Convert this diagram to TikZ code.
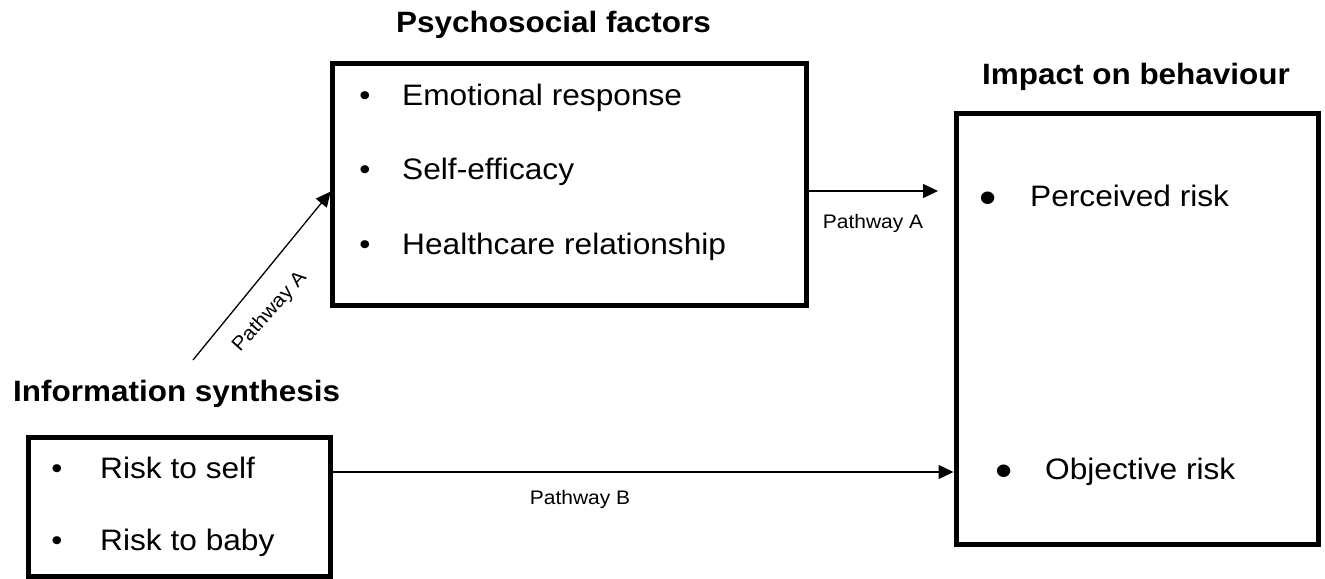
\documentclass[tikz,border=0pt]{standalone}
\usepackage{fontspec}
\setmainfont{Liberation Sans}[FakeStretch=1.07]
\usetikzlibrary{arrows.meta}
\begin{document}
\begin{tikzpicture}[x=1bp,y=-1bp,
  box/.style={draw=black,line width=5bp,rectangle,inner sep=0pt,outer sep=0pt},
  title/.style={anchor=base west,inner sep=0pt,font=\fontsize{29.4bp}{34bp}\selectfont\bfseries},
  item/.style={anchor=base west,inner sep=0pt,font=\fontsize{29.6bp}{34bp}\selectfont},
  bul/.style={anchor=base,inner sep=0pt,font=\fontsize{29.6bp}{34bp}\selectfont},
  bigbul/.style={anchor=base,inner sep=0pt,font=\fontsize{46bp}{50bp}\selectfont},
  plabel/.style={inner sep=0pt,font=\fontsize{19.6bp}{23bp}\selectfont},
  arr/.style={line width=1.3bp,-{Triangle[length=15bp,width=14bp]}}]
\useasboundingbox (0,0) rectangle (1325,579);

% boxes
\node[box,minimum width=474bp,minimum height=241bp] (mid) at (569,184.5) {};
\node[box,minimum width=362bp,minimum height=430bp] (right) at (1137,329) {};
\node[box,minimum width=301bp,minimum height=139bp] (left) at (179.5,506.5) {};

% titles
\node[title] (tmid) at (396,33) {Psychosocial factors};
\node[title] (tright) at (982,85) {Impact on behaviour};
\node[title] (tleft) at (13,401) {Information synthesis};

% middle items
\node[bul] (bm1) at (365,106) {•};
\node[item] (im1) at (402,106) {Emotional response};
\node[bul] (bm2) at (365,180) {•};
\node[item] (im2) at (402,180) {Self-efficacy};
\node[bul] (bm3) at (365,254) {•};
\node[item] (im3) at (402,254) {Healthcare relationship};

% right items
\node[bigbul] (br1) at (988,213) {•};
\node[item] (ir1) at (1030,206) {Perceived risk};
\node[bigbul] (br2) at (1004,486) {•};
\node[item] (ir2) at (1045,479) {Objective risk};

% left items
\node[bul] (bl1) at (57,478) {•};
\node[item] (il1) at (100,478) {Risk to self};
\node[bul] (bl2) at (57,550) {•};
\node[item] (il2) at (100,550) {Risk to baby};

% connectors
\coordinate (d0) at (193,360);
\coordinate (d1) at (0,190);
\coordinate (a1y) at (0,191);
\coordinate (a1e) at (938,191);
\coordinate (pby) at (0,472);

\draw[arr,shorten >=2bp] (d0) -- (mid.west |- d1);
\draw[arr] (mid.east |- a1y) -- (a1e);
\draw[arr,shorten >=2.5bp] (left.east |- pby) -- (right.west |- pby);

% pathway labels
\node[plabel,rotate=48] (pla) at (270,312) {Pathway A};
\node[plabel] (plb) at (873,223) {Pathway A};
\node[plabel] (plc) at (580,499) {Pathway B};
\end{tikzpicture}
\end{document}
